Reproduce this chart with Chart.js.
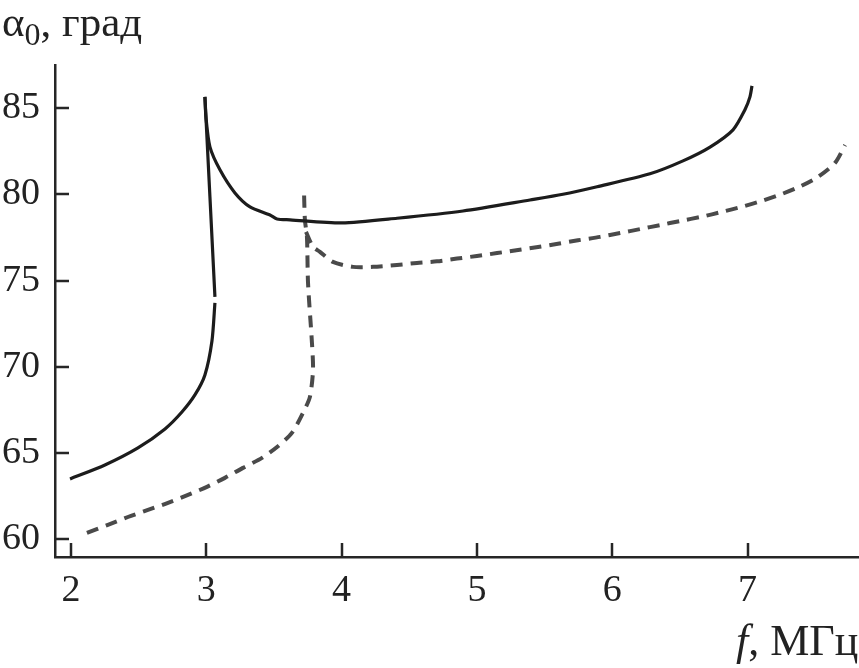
<!DOCTYPE html>
<html>
<head>
<meta charset="utf-8">
<script src="https://cdn.jsdelivr.net/npm/chart.js@4.4.1/dist/chart.umd.min.js"></script>
<style>
html,body{margin:0;padding:0;background:#fff;}
#wrap{width:859px;height:668px;position:relative;}
</style>
</head>
<body>
<div id="wrap"><canvas id="c"></canvas></div>
<script>
// ---- data ----
const xTicks = [2, 3, 4, 5, 6, 7];
const yTicks = [60, 65, 70, 75, 80, 85];

const solidLowerX = [1.993, 2.251, 2.495, 2.695, 2.820, 2.916, 2.990, 3.042, 3.064];
const solidLowerY = [63.50, 64.31, 65.30, 66.40, 67.38, 68.37, 69.53, 71.50, 73.71];

const solidSteepX = [3.064, 3.027, 2.990];
const solidSteepY = [74.06, 79.87, 85.66];

const solidUpperX = [2.990, 2.998, 3.027, 3.101, 3.212, 3.323, 3.471, 3.523, 3.619, 4.003, 4.41, 4.897, 5.392, 5.636, 5.888, 6.279, 6.523, 6.723, 6.893, 6.981, 7.018, 7.033];
const solidUpperY = [85.66, 84.44, 82.76, 81.43, 80.09, 79.28, 78.81, 78.58, 78.53, 78.35, 78.62, 79.04, 79.68, 80.01, 80.45, 81.20, 81.95, 82.75, 83.75, 84.91, 85.66, 86.30];

const dashLowerX = [2.118, 2.273, 2.421, 2.569, 2.717, 2.865, 3.005, 3.138, 3.271, 3.412, 3.523, 3.633, 3.715, 3.766, 3.789, 3.781, 3.752, 3.744, 3.729, 3.722];
const dashLowerY = [60.37, 60.83, 61.29, 61.70, 62.11, 62.57, 63.04, 63.56, 64.14, 64.72, 65.35, 66.17, 67.33, 68.26, 69.82, 71.39, 74.87, 77.54, 78.52, 80.26];

const dashBranchX = [3.737, 3.789, 3.840, 3.936, 4.084, 4.232, 4.409, 4.557, 4.705, 4.853, 5.0, 5.149, 5.304, 5.452, 5.599, 5.747, 5.910, 6.058, 6.205, 6.353, 6.501, 6.663, 6.811, 6.959, 7.107, 7.255, 7.388, 7.521, 7.647, 7.721];
const dashBranchY = [77.83, 76.96, 76.67, 76.09, 75.80, 75.80, 75.91, 76.03, 76.12, 76.28, 76.43, 76.60, 76.78, 76.95, 77.14, 77.34, 77.54, 77.76, 77.99, 78.22, 78.46, 78.71, 78.99, 79.29, 79.63, 80.03, 80.46, 81.02, 81.83, 82.87];

const yTitleMain = "α";
const yTitleSub = "0";
const yTitleRest = ", град";
const xTitleItalic = "f";
const xTitleRest = ", МГц";

// ---- helpers ----
const pts = (xs, ys) => xs.map((x, i) => ({x: x, y: ys[i]}));
const AXIS = '#262626';
const SOLID = '#1c1c1c';
const DASH = '#4a4a4a';
const SERIF = '"Liberation Serif", "DejaVu Serif", serif';

const solidStyle = {borderColor: SOLID, borderWidth: 3.2, pointRadius: 0, showLine: true, fill: false};
const dashStyle = {borderColor: DASH, borderWidth: 4, borderDash: [12, 8], pointRadius: 0, showLine: true, fill: false};

const inwardTicks = {
  id: 'inwardTicks',
  afterDraw(chart) {
    const ctx = chart.ctx, xs = chart.scales.x, ys = chart.scales.y, a = chart.chartArea;
    ctx.save();
    ctx.strokeStyle = AXIS;
    ctx.lineWidth = 2.5;
    ctx.beginPath();
    xTicks.forEach(v => { const p = Math.round(xs.getPixelForValue(v)); ctx.moveTo(p, a.bottom); ctx.lineTo(p, a.bottom - 14); });
    yTicks.forEach(v => { const p = Math.round(ys.getPixelForValue(v)); ctx.moveTo(a.left, p); ctx.lineTo(a.left + 14, p); });
    ctx.stroke();
    // axis titles
    ctx.fillStyle = '#222';
    ctx.textBaseline = 'alphabetic';
    ctx.textAlign = 'left';
    ctx.font = '43px ' + SERIF;
    let x = 2;
    ctx.fillText(yTitleMain, x, 36);
    x += ctx.measureText(yTitleMain).width;
    ctx.font = '32px ' + SERIF;
    ctx.fillText(yTitleSub, x, 45);
    x += ctx.measureText(yTitleSub).width;
    ctx.font = '43px ' + SERIF;
    ctx.fillText(yTitleRest, x, 36);
    // x title
    ctx.font = 'italic 44px ' + SERIF;
    let xx = 736;
    ctx.fillText(xTitleItalic, xx, 655);
    xx += ctx.measureText(xTitleItalic).width;
    ctx.font = '44px ' + SERIF;
    ctx.fillText(xTitleRest, xx, 655);
    ctx.restore();
  }
};

new Chart(document.getElementById('c'), {
  type: 'scatter',
  data: {
    datasets: [
      Object.assign({data: pts(solidLowerX, solidLowerY), tension: 0.25}, solidStyle),
      Object.assign({data: pts(solidSteepX, solidSteepY), tension: 0}, solidStyle),
      Object.assign({data: pts(solidUpperX, solidUpperY), tension: 0.25}, solidStyle),
      Object.assign({data: pts(dashLowerX, dashLowerY), tension: 0.25}, dashStyle),
      Object.assign({data: pts(dashBranchX, dashBranchY), tension: 0.25}, dashStyle)
    ]
  },
  options: {
    responsive: true,
    maintainAspectRatio: false,
    animation: false,
    layout: {padding: {top: 65, right: 0, left: 0, bottom: 0}},
    plugins: {legend: {display: false}, tooltip: {enabled: false}},
    scales: {
      x: {
        type: 'linear', min: 1.882, max: 7.824,
        afterFit(s) { s.height = 111; },
        afterBuildTicks(s) { s.ticks = xTicks.map(v => ({value: v})); },
        grid: {display: false, drawTicks: false},
        border: {display: true, color: AXIS, width: 2.5},
        ticks: {color: '#222', font: {family: SERIF, size: 38}, padding: 11, maxRotation: 0, autoSkip: false}
      },
      y: {
        type: 'linear', min: 58.97, max: 87.51,
        afterFit(s) { s.width = 55; },
        afterBuildTicks(s) { s.ticks = yTicks.map(v => ({value: v})); },
        grid: {display: false, drawTicks: false},
        border: {display: true, color: AXIS, width: 2.5},
        ticks: {color: '#222', font: {family: SERIF, size: 38}, padding: 15, autoSkip: false}
      }
    }
  },
  plugins: [inwardTicks]
});
</script>
</body>
</html>
